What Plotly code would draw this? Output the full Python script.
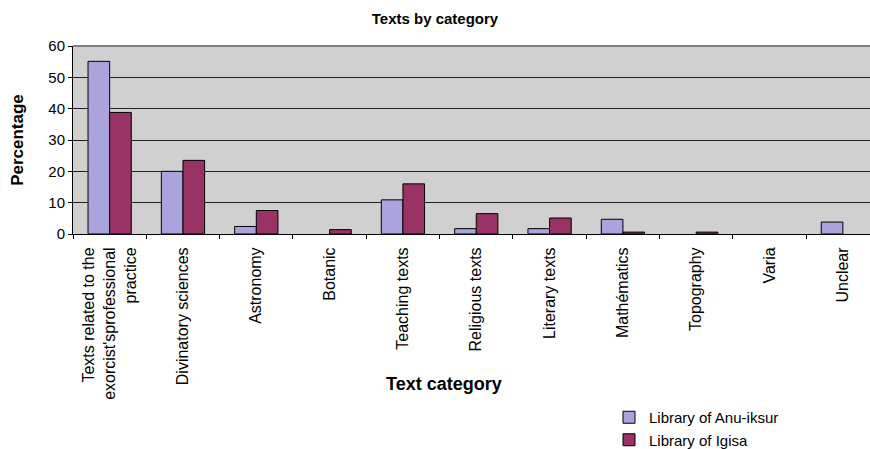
import plotly.graph_objects as go

categories = [
    "Texts related to the<br>exorcist'sprofessional<br>practice",
    "Divinatory sciences",
    "Astronomy",
    "Botanic",
    "Teaching texts",
    "Religious texts",
    "Literary texts",
    "Mathématics",
    "Topography",
    "Varia",
    "Unclear",
]
anu_iksur = [55.1, 20.0, 2.4, 0.0, 10.9, 1.7, 1.7, 4.7, 0.0, 0.0, 3.8]
igisa = [38.8, 23.5, 7.5, 1.4, 16.0, 6.5, 5.1, 0.6, 0.6, 0.0, 0.0]
y_ticks = [0, 10, 20, 30, 40, 50, 60]

FONT = "Liberation Sans, Arial, sans-serif"

# plot area in pixels
L, R, T, B = 73, 870, 46, 234
PW, PH = R - L, B - T


def px(x):
    return (x - L) / PW


def py(y):
    return (B - y) / PH


def outline(values):
    # no outline drawn for empty (zero) bars
    return [1 if v > 0 else 0 for v in values]


fig = go.Figure()
fig.add_trace(go.Bar(x=categories, y=anu_iksur, name="Library of Anu-iksur",
                     marker=dict(color="#AAA3DD",
                                 line=dict(color="#000000", width=outline(anu_iksur)))))
fig.add_trace(go.Bar(x=categories, y=igisa, name="Library of Igisa",
                     marker=dict(color="#993366",
                                 line=dict(color="#000000", width=outline(igisa)))))

fig.update_layout(
    width=870, height=449,
    margin=dict(l=L, r=870 - R, t=T, b=449 - B, autoexpand=False),
    paper_bgcolor="white", plot_bgcolor="#D0D0D0",
    barmode="group", bargap=0.41, bargroupgap=0,
    font=dict(family=FONT, size=14, color="#000000"),
    title=dict(text="<b>Texts by category</b>", x=0.5, xanchor="center",
               y=1 - 19 / 449, yanchor="middle", font=dict(size=15)),
    showlegend=True,
    legend=dict(x=px(609), xanchor="left", y=py(401), yanchor="top",
                font=dict(size=15), bgcolor="rgba(0,0,0,0)", tracegroupgap=0,
                itemwidth=30),
    xaxis=dict(type="category", range=[-0.5, 10.37], tickangle=-90,
               showline=True, linecolor="#000000", linewidth=1,
               ticks="outside", tickson="boundaries", ticklen=4, tickcolor="#000000",
               tickfont=dict(size=16), showgrid=False, fixedrange=True,
               ticklabelstandoff=6, automargin=False),
    yaxis=dict(range=[0, 60], tickvals=y_ticks, showline=True, linecolor="#000000",
               linewidth=1, ticks="outside", ticklen=4, tickcolor="#000000",
               showgrid=True, gridcolor="#222222", gridwidth=1, zeroline=False,
               tickfont=dict(size=15), automargin=False,
               title=dict(text="<b>Percentage</b>", font=dict(size=17), standoff=20)),
)
fig.add_shape(type="line", xref="paper", yref="paper", x0=0, x1=1, y0=1, y1=1,
              line=dict(color="#808080", width=2))
fig.add_annotation(text="<b>Text category</b>", xref="paper", yref="paper",
                   x=px(444), y=py(384), xanchor="center", yanchor="middle",
                   showarrow=False, font=dict(size=18))

fig.write_html("out.html")
